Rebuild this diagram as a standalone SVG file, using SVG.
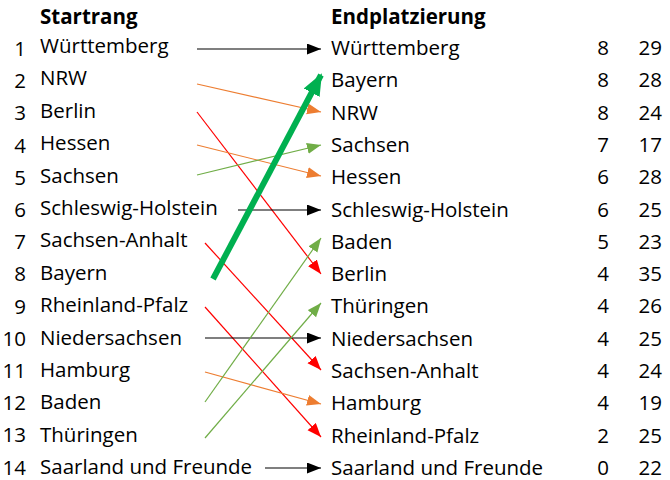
<svg xmlns="http://www.w3.org/2000/svg" width="670" height="480" viewBox="0 0 670 480">
<style>
text{font-family:"Open Sans","Noto Sans","Liberation Sans",sans-serif;font-size:20.5px;fill:#000}
.t{font-weight:bold}
.n{text-anchor:end}
.c{fill:none;stroke-width:1.2}
.k{stroke:#000}.o{stroke:#ED7D31}.r{stroke:#FF0000}.g{stroke:#70AD47}
.G{stroke:#00B050;stroke-width:6;fill:none}
</style>
<defs>
<marker id="mk" markerUnits="userSpaceOnUse" markerWidth="15" markerHeight="12" refX="14" refY="5.5" orient="auto"><path d="M0,0 L14,5.5 L0,11 z" fill="#000"/></marker>
<marker id="mo" markerUnits="userSpaceOnUse" markerWidth="15" markerHeight="12" refX="14" refY="5.5" orient="auto"><path d="M0,0 L14,5.5 L0,11 z" fill="#ED7D31"/></marker>
<marker id="mr" markerUnits="userSpaceOnUse" markerWidth="15" markerHeight="12" refX="14" refY="5.5" orient="auto"><path d="M0,0 L14,5.5 L0,11 z" fill="#FF0000"/></marker>
<marker id="mg" markerUnits="userSpaceOnUse" markerWidth="15" markerHeight="12" refX="14" refY="5.5" orient="auto"><path d="M0,0 L14,5.5 L0,11 z" fill="#70AD47"/></marker>
<marker id="mG" markerUnits="userSpaceOnUse" markerWidth="23" markerHeight="19" refX="20" refY="9" orient="auto"><path d="M0,0 L22,9 L0,18 z" fill="#00B050"/></marker>
</defs>
<g id="titles">
<text class="t" x="40" y="24">Startrang</text>
<text class="t" x="331" y="24">Endplatzierung</text>
</g>
<g id="start">
<g id="s1"><text class="n" x="26" y="56">1</text><text x="40" y="53">Württemberg</text></g>
<g id="s2"><text class="n" x="26" y="88.2">2</text><text x="40" y="85.4">NRW</text></g>
<g id="s3"><text class="n" x="26" y="120.4">3</text><text x="40" y="117.8">Berlin</text></g>
<g id="s4"><text class="n" x="26" y="152.6">4</text><text x="40" y="150.2">Hessen</text></g>
<g id="s5"><text class="n" x="26" y="184.8">5</text><text x="40" y="182.6">Sachsen</text></g>
<g id="s6"><text class="n" x="26" y="217">6</text><text x="40" y="215">Schleswig-Holstein</text></g>
<g id="s7"><text class="n" x="26" y="249.2">7</text><text x="40" y="247.4">Sachsen-Anhalt</text></g>
<g id="s8"><text class="n" x="26" y="281.4">8</text><text x="40" y="279.8">Bayern</text></g>
<g id="s9"><text class="n" x="26" y="313.6">9</text><text x="40" y="312.2">Rheinland-Pfalz</text></g>
<g id="s10"><text class="n" x="26" y="345.8">10</text><text x="40" y="344.6">Niedersachsen</text></g>
<g id="s11"><text class="n" x="26" y="378">11</text><text x="40" y="377">Hamburg</text></g>
<g id="s12"><text class="n" x="26" y="410.2">12</text><text x="40" y="409.4">Baden</text></g>
<g id="s13"><text class="n" x="26" y="442.4">13</text><text x="40" y="441.8">Thüringen</text></g>
<g id="s14"><text class="n" x="26" y="474.6">14</text><text x="40" y="474.2">Saarland und Freunde</text></g>
</g>
<g id="end">
<g id="e1"><text x="331" y="55">Württemberg</text><text class="n" x="609" y="55">8</text><text class="n" x="662" y="55">29</text></g>
<g id="e2"><text x="331" y="87.3">Bayern</text><text class="n" x="609" y="87.3">8</text><text class="n" x="662" y="87.3">28</text></g>
<g id="e3"><text x="331" y="119.6">NRW</text><text class="n" x="609" y="119.6">8</text><text class="n" x="662" y="119.6">24</text></g>
<g id="e4"><text x="331" y="151.9">Sachsen</text><text class="n" x="609" y="151.9">7</text><text class="n" x="662" y="151.9">17</text></g>
<g id="e5"><text x="331" y="184.2">Hessen</text><text class="n" x="609" y="184.2">6</text><text class="n" x="662" y="184.2">28</text></g>
<g id="e6"><text x="331" y="216.5">Schleswig-Holstein</text><text class="n" x="609" y="216.5">6</text><text class="n" x="662" y="216.5">25</text></g>
<g id="e7"><text x="331" y="248.8">Baden</text><text class="n" x="609" y="248.8">5</text><text class="n" x="662" y="248.8">23</text></g>
<g id="e8"><text x="331" y="281.1">Berlin</text><text class="n" x="609" y="281.1">4</text><text class="n" x="662" y="281.1">35</text></g>
<g id="e9"><text x="331" y="313.4">Thüringen</text><text class="n" x="609" y="313.4">4</text><text class="n" x="662" y="313.4">26</text></g>
<g id="e10"><text x="331" y="345.7">Niedersachsen</text><text class="n" x="609" y="345.7">4</text><text class="n" x="662" y="345.7">25</text></g>
<g id="e11"><text x="331" y="378">Sachsen-Anhalt</text><text class="n" x="609" y="378">4</text><text class="n" x="662" y="378">24</text></g>
<g id="e12"><text x="331" y="410.3">Hamburg</text><text class="n" x="609" y="410.3">4</text><text class="n" x="662" y="410.3">19</text></g>
<g id="e13"><text x="331" y="442.6">Rheinland-Pfalz</text><text class="n" x="609" y="442.6">2</text><text class="n" x="662" y="442.6">25</text></g>
<g id="e14"><text x="331" y="474.9">Saarland und Freunde</text><text class="n" x="609" y="474.9">0</text><text class="n" x="662" y="474.9">22</text></g>
</g>
<g id="connectors">
<line class="c k" x1="197" y1="49" x2="321" y2="49" marker-end="url(#mk)"/>
<line class="c o" x1="197" y1="84" x2="321" y2="112" marker-end="url(#mo)"/>
<line class="c r" x1="197" y1="112" x2="321" y2="274" marker-end="url(#mr)"/>
<line class="c o" x1="197" y1="145" x2="321" y2="176" marker-end="url(#mo)"/>
<line class="c g" x1="197" y1="175" x2="321" y2="145" marker-end="url(#mg)"/>
<line class="c k" x1="238" y1="210" x2="321" y2="210" marker-end="url(#mk)"/>
<line class="c r" x1="205" y1="243" x2="321" y2="370" marker-end="url(#mr)"/>
<line class="c r" x1="205" y1="307" x2="321" y2="437" marker-end="url(#mr)"/>
<line class="c k" x1="205" y1="338" x2="321" y2="338" marker-end="url(#mk)"/>
<line class="c o" x1="205" y1="372" x2="321" y2="404" marker-end="url(#mo)"/>
<line class="c g" x1="205" y1="402" x2="321" y2="238" marker-end="url(#mg)"/>
<line class="c g" x1="205" y1="438" x2="321" y2="303" marker-end="url(#mg)"/>
<line class="c k" x1="265" y1="468" x2="321" y2="468" marker-end="url(#mk)"/>
<line class="G" x1="213" y1="279" x2="321" y2="75" marker-end="url(#mG)"/>
</g>
</svg>
